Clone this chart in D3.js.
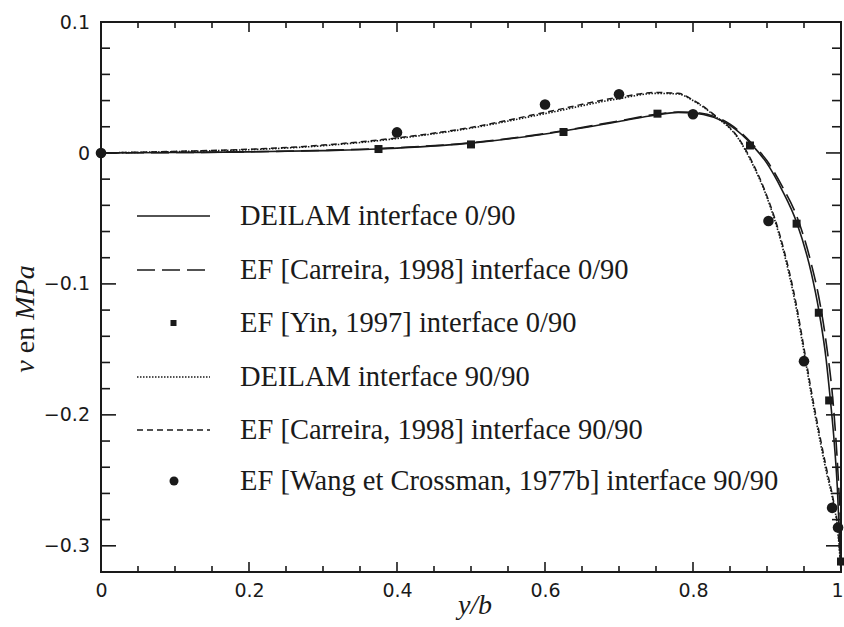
<!DOCTYPE html>
<html><head><meta charset="utf-8">
<script src="https://cdn.jsdelivr.net/npm/d3@7"></script>
<style>body{margin:0;background:#fff}svg{display:block}</style>
</head><body>
<svg id="chart" width="844" height="627"></svg>
<script>
// ---- data ----
const xTickLabels = ["0", "0.2", "0.4", "0.6", "0.8", "1"];
const yTickLabels = ["0.1", "0", "−0.1", "−0.2", "−0.3"];
const xTicks = [0, 0.2, 0.4, 0.6, 0.8, 1];
const yTicks = [0.1, 0, -0.1, -0.2, -0.3];

const deilam090X = [0, 0.1, 0.2, 0.3, 0.375, 0.4, 0.5, 0.6, 0.7, 0.75, 0.78, 0.8, 0.85, 0.88, 0.9, 0.92, 0.94, 0.96, 0.97, 0.98, 0.985, 0.99, 0.995, 1.0];
const deilam090Y = [0, 0.0003, 0.0008, 0.0018, 0.003, 0.0037, 0.0075, 0.0145, 0.024, 0.029, 0.031, 0.0305, 0.021, 0.006, -0.008, -0.028, -0.053, -0.092, -0.12, -0.158, -0.185, -0.215, -0.255, -0.32];

const carreira090X = [0, 0.1, 0.2, 0.3, 0.4, 0.5, 0.6, 0.7, 0.75, 0.78, 0.8, 0.85, 0.88, 0.9, 0.92, 0.94, 0.96, 0.97, 0.98, 0.99, 0.995, 1.0];
const carreira090Y = [0, 0.0003, 0.0009, 0.002, 0.004, 0.0078, 0.0148, 0.0245, 0.0295, 0.0312, 0.031, 0.022, 0.007, -0.006, -0.025, -0.048, -0.085, -0.11, -0.145, -0.195, -0.235, -0.29];

const yinX = [0.375, 0.5, 0.625, 0.752, 0.877, 0.94, 0.97, 0.984, 1.0];
const yinY = [0.003, 0.0065, 0.016, 0.030, 0.0057, -0.054, -0.122, -0.189, -0.312];

const deilam9090X = [0, 0.1, 0.2, 0.3, 0.4, 0.5, 0.6, 0.7, 0.75, 0.78, 0.8, 0.83, 0.86, 0.88, 0.9, 0.92, 0.94, 0.95, 0.96, 0.97, 0.98, 0.99, 0.995, 1.0];
const deilam9090Y = [0, 0.001, 0.0025, 0.0055, 0.011, 0.019, 0.030, 0.0415, 0.0455, 0.045, 0.040, 0.028, 0.012, -0.008, -0.034, -0.07, -0.12, -0.152, -0.185, -0.215, -0.243, -0.268, -0.285, -0.32];

const carreira9090X = [0, 0.1, 0.2, 0.3, 0.4, 0.5, 0.6, 0.7, 0.75, 0.78, 0.8, 0.83, 0.86, 0.88, 0.9, 0.92, 0.94, 0.95, 0.96, 0.97, 0.98, 0.99, 0.995, 1.0];
const carreira9090Y = [0, 0.0012, 0.0028, 0.006, 0.0115, 0.0195, 0.031, 0.0425, 0.0462, 0.0455, 0.0405, 0.0285, 0.0125, -0.007, -0.033, -0.068, -0.117, -0.149, -0.182, -0.212, -0.24, -0.266, -0.283, -0.318];

const wangX = [0, 0.40, 0.60, 0.70, 0.80, 0.902, 0.950, 0.988, 0.996];
const wangY = [0, 0.0157, 0.037, 0.0448, 0.0295, -0.052, -0.159, -0.271, -0.286];

const legendLabels = [
  "DEILAM interface 0/90",
  "EF [Carreira, 1998] interface 0/90",
  "EF [Yin, 1997] interface 0/90",
  "DEILAM interface 90/90",
  "EF [Carreira, 1998] interface 90/90",
  "EF [Wang et Crossman, 1977b] interface 90/90"
];

// ---- chart ----
const svg = d3.select("#chart");
const L = 101, R = 841, T = 22, B = 572;
const x = d3.scaleLinear().domain([0, 1]).range([L, R]);
const y = d3.scaleLinear().domain([-0.32, 0.1]).range([B, T]);
const ink = "#1a1a1a";

const zip = (xs, ys) => xs.map((v, i) => [v, ys[i]]);
const line = d3.line().x(d => x(d[0])).y(d => y(d[1])).curve(d3.curveMonotoneX);

svg.append("clipPath").attr("id", "clip").append("rect")
  .attr("x", L).attr("y", T).attr("width", R - L).attr("height", B - T);

const xMinor = d3.range(0, 1.0001, 0.05).map(v => +v.toFixed(2));
const yMinor = d3.range(-0.32, 0.1001, 0.02).map(v => +v.toFixed(2)).filter(v => v >= -0.32);

function isMajorX(v){ return xTicks.some(t => Math.abs(t - v) < 1e-6); }
function isMajorY(v){ return yTicks.some(t => Math.abs(t - v) < 1e-6); }

const gAx = svg.append("g").attr("stroke", ink).attr("stroke-width", 1.6);
xMinor.forEach(v => {
  const len = isMajorX(v) ? 10 : 6;
  gAx.append("line").attr("x1", x(v)).attr("x2", x(v)).attr("y1", B).attr("y2", B - len);
  gAx.append("line").attr("x1", x(v)).attr("x2", x(v)).attr("y1", T).attr("y2", T + len);
});
yMinor.forEach(v => {
  const len = isMajorY(v) ? 15 : 9;
  gAx.append("line").attr("x1", L).attr("x2", L + len).attr("y1", y(v)).attr("y2", y(v));
  gAx.append("line").attr("x1", R).attr("x2", R - len).attr("y1", y(v)).attr("y2", y(v));
});

svg.append("rect").attr("x", L).attr("y", T).attr("width", R - L).attr("height", B - T)
  .attr("fill", "none").attr("stroke", ink).attr("stroke-width", 2);

const xAxis = d3.axisBottom(x).tickValues(xTicks).tickSize(0).tickPadding(12)
  .tickFormat((d, i) => xTickLabels[i]);
const gx = svg.append("g").attr("transform", `translate(0,${B})`).call(xAxis);
gx.select(".domain").remove();
gx.selectAll("text").attr("font-family", "DejaVu Sans").attr("font-size", 19).attr("fill", ink);
gx.selectAll(".tick").filter(d => d === 1).select("text").attr("text-anchor", "end").attr("dx", 2);

const yAxis = d3.axisLeft(y).tickValues(yTicks).tickSize(0).tickPadding(11)
  .tickFormat((d, i) => yTickLabels[i]);
const gy = svg.append("g").attr("transform", `translate(${L},0)`).call(yAxis);
gy.select(".domain").remove();
gy.selectAll("text").attr("font-family", "DejaVu Sans").attr("font-size", 19).attr("fill", ink);

const series = [
  {data: zip(deilam090X, deilam090Y), dash: null, w: 1.6},
  {data: zip(carreira090X, carreira090Y), dash: "18,7", w: 1.6},
  {data: zip(deilam9090X, deilam9090Y), dash: "1.5,1.5", w: 1.6},
  {data: zip(carreira9090X, carreira9090Y), dash: "6,4", w: 1.5}
];
const gC = svg.append("g").attr("clip-path", "url(#clip)");
series.forEach(s => {
  gC.append("path").attr("d", line(s.data)).attr("fill", "none")
    .attr("stroke", ink).attr("stroke-width", s.w)
    .attr("stroke-dasharray", s.dash);
});

const gM = svg.append("g");
gM.selectAll("rect.yin").data(zip(yinX, yinY)).join("rect").attr("class", "yin")
  .attr("x", d => x(d[0]) - 4).attr("y", d => y(d[1]) - 4)
  .attr("width", 8).attr("height", 8).attr("fill", ink);
gM.selectAll("circle.wang").data(zip(wangX, wangY)).join("circle").attr("class", "wang")
  .attr("cx", d => x(d[0])).attr("cy", d => y(d[1])).attr("r", 5.3).attr("fill", ink);

const legY = [216, 270, 323, 377, 430, 481];
const lx1 = 137, lx2 = 210, tx = 240;
const gL = svg.append("g");
legendLabels.forEach((lab, i) => {
  const yy = legY[i];
  if (i === 0 || i === 1 || i === 3 || i === 4) {
    const s = series[[0, 1, -1, 2, 3][i]];
    gL.append("line").attr("x1", lx1).attr("x2", lx2).attr("y1", yy).attr("y2", yy)
      .attr("stroke", ink).attr("stroke-width", s.w).attr("stroke-dasharray", s.dash);
  } else if (i === 2) {
    gL.append("rect").attr("x", 173.5 - 3).attr("y", yy - 3).attr("width", 6).attr("height", 6).attr("fill", ink);
  } else {
    gL.append("circle").attr("cx", 174).attr("cy", yy).attr("r", 4.5).attr("fill", ink);
  }
  gL.append("text").attr("x", tx).attr("y", yy + 9)
    .attr("font-family", "Liberation Serif").attr("font-size", 28.5).attr("fill", ink)
    .text(lab);
});

const yl = svg.append("text").attr("transform", "translate(34,319) rotate(-90)")
  .attr("text-anchor", "middle").attr("font-family", "Liberation Serif")
  .attr("font-size", 28).attr("fill", ink);
yl.append("tspan").attr("font-style", "italic").text("ν");
yl.append("tspan").text(" en ");
yl.append("tspan").attr("font-style", "italic").text("MPa");

svg.append("text").attr("x", 475).attr("y", 614)
  .attr("text-anchor", "middle").attr("font-family", "Liberation Serif")
  .attr("font-size", 28).attr("font-style", "italic").attr("fill", ink)
  .text("y/b");
</script>
</body></html>
